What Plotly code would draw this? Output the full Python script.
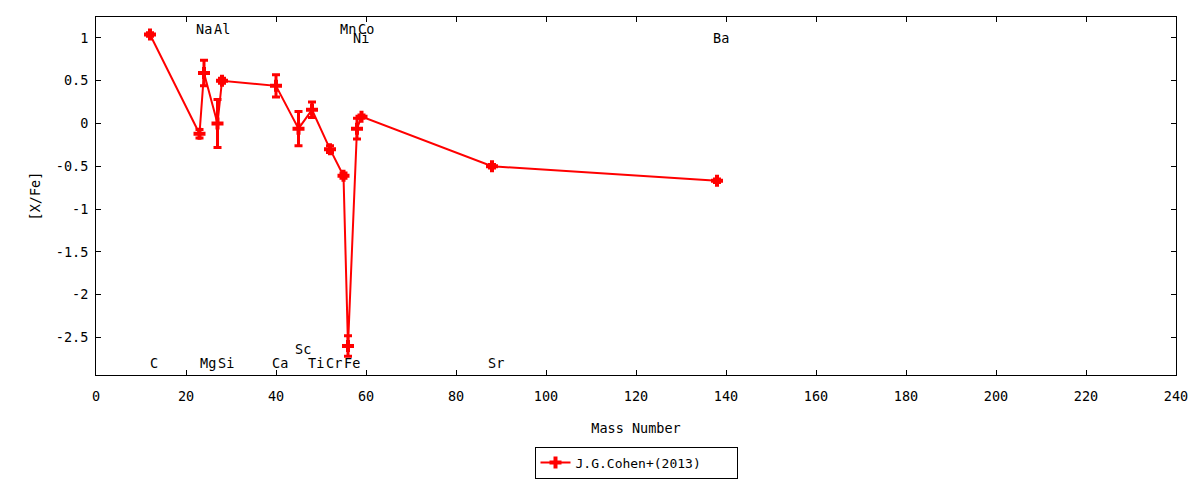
import plotly.graph_objects as go

# =========================
# DATA
# =========================
elements = ["C", "Na", "Mg", "Al", "Si", "Ca", "Sc", "Ti", "Cr", "Mn", "Fe", "Ni", "Co", "Sr", "Ba"]
mass_number = [12, 23, 24, 27, 28, 40, 45, 48, 52, 55, 56, 58, 59, 88, 138]
x_fe = [1.04, -0.12, 0.59, 0.00, 0.50, 0.44, -0.06, 0.16, -0.30, -0.61, -2.60, -0.06, 0.08, -0.50, -0.67]
x_fe_err = [0.02, 0.05, 0.15, 0.28, 0.03, 0.13, 0.20, 0.09, 0.04, 0.03, 0.12, 0.12, 0.02, 0.02, 0.02]

# where each element name sits on the y scale
label_y = [-2.80, 1.11, -2.80, 1.11, -2.80, -2.80, -2.64, -2.80, -2.80, 1.11, -2.80, 1.00, 1.11, -2.80, 1.00]

x_ticks = list(range(0, 241, 20))
y_ticks = [1, 0.5, 0, -0.5, -1, -1.5, -2, -2.5]
y_ticktext = ["1", "0.5", "0", "-0.5", "-1", "-1.5", "-2", "-2.5"]

FONT = "DejaVu Sans Mono"
FS = 13.5
RED = "#ff0000"

fig = go.Figure()

fig.add_trace(
    go.Scatter(
        x=mass_number,
        y=x_fe,
        mode="lines+markers",
        name="J.G.Cohen+(2013)",
        line=dict(color=RED, width=2),
        marker=dict(symbol="cross", size=10, color=RED),
        error_y=dict(type="data", array=x_fe_err, color=RED, thickness=3, width=4),
    )
)

for el, a, ly in zip(elements, mass_number, label_y):
    fig.add_annotation(
        x=a, y=ly, text=el, showarrow=False,
        xanchor="center", yanchor="middle", xshift=4,
        font=dict(family=FONT, size=FS, color="black"),
    )

# page body adds 8px, margins are offset for it
fig.update_layout(
    width=1200,
    height=480,
    margin=dict(l=88, r=32, t=9, b=113),
    paper_bgcolor="white",
    plot_bgcolor="white",
    font=dict(family=FONT, size=FS, color="black"),
    showlegend=True,
    legend=dict(
        orientation="h",
        x=0.5, xanchor="center",
        y=-0.2, yanchor="top",
        bordercolor="black", borderwidth=1,
        entrywidth=156,
        font=dict(family=FONT, size=13),
    ),
)

fig.update_xaxes(
    range=[0, 240],
    tickvals=x_ticks,
    ticks="inside", ticklen=5, tickcolor="black",
    ticklabelstandoff=9,
    showline=True, linecolor="black", linewidth=1, mirror="ticks",
    showgrid=False, zeroline=False, automargin=False,
    title=dict(text="Mass Number", standoff=20, font=dict(size=FS)),
)
fig.update_yaxes(
    range=[-2.94, 1.245],
    tickvals=y_ticks, ticktext=y_ticktext,
    ticks="inside", ticklen=5, tickcolor="black",
    ticklabelstandoff=4,
    showline=True, linecolor="black", linewidth=1, mirror="ticks",
    showgrid=False, zeroline=False, automargin=False,
    title=dict(text="[X/Fe]", standoff=12, font=dict(size=FS)),
)

fig.write_html("out.html")
